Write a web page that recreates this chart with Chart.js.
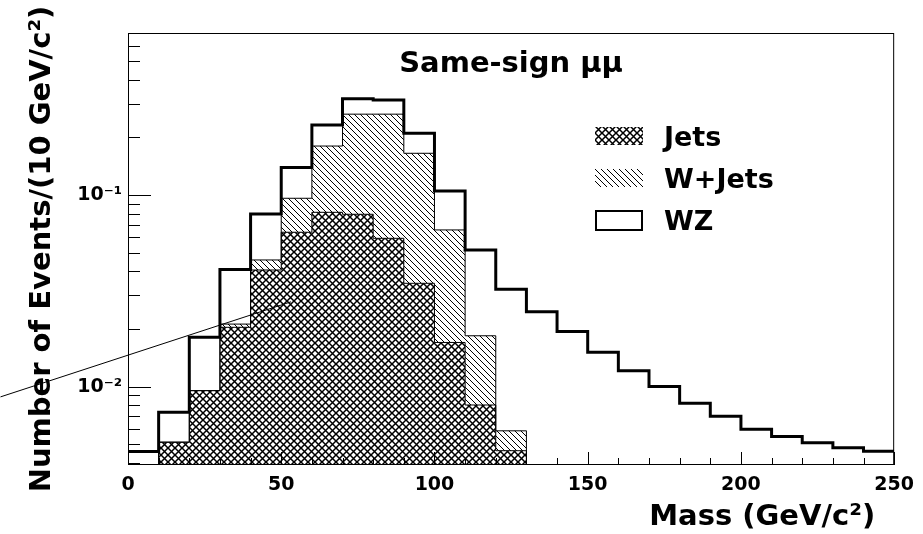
<!DOCTYPE html>
<html>
<head>
<meta charset="utf-8">
<script src="https://cdn.jsdelivr.net/npm/chart.js@4.4.1/dist/chart.umd.min.js"></script>
<style>
    html, body { margin: 0; padding: 0; background: #fff; }
</style>
</head>
<body>
<canvas id="myChart" width="923" height="534"></canvas>
<script>
// bin edges in GeV/c^2, 10 GeV bins
const binEdges = [0, 10, 20, 30, 40, 50, 60, 70, 80, 90, 100, 110, 120, 130,
    140, 150, 160, 170, 180, 190, 200, 210, 220, 230, 240, 250];

// contributions per bin (stacked: Jets, then W+Jets, then WZ on top)
const jets = [0, 0.00513, 0.00953, 0.0204, 0.0406, 0.0639, 0.0812, 0.0793, 0.0594,
    0.0346, 0.0170, 0.00802, 0.00463, 0, 0, 0, 0, 0, 0, 0, 0, 0, 0, 0, 0];
const wJets = [0, 0, 0, 0.0008, 0.0052, 0.0322, 0.0988, 0.1847, 0.2046,
    0.1304, 0.0487, 0.0104, 0.00125, 0, 0, 0, 0, 0, 0, 0, 0, 0, 0, 0, 0];
const wz = [0.00458, 0.00222, 0.00857, 0.0197, 0.0338, 0.0429, 0.052, 0.054, 0.049,
    0.045, 0.0393, 0.0332, 0.0263, 0.0246, 0.0194, 0.0151, 0.0121, 0.0100, 0.0082,
    0.0070, 0.0060, 0.0055, 0.0051, 0.0048, 0.0046];

const yMin = 0.0039;
const yMax = 0.7;
const yMajorTicks = [0.01, 0.1];
const yTickLabels = ['10⁻²', '10⁻¹'];
const legendLabels = ['Jets', 'W+Jets', 'WZ'];
const plotTitle = 'Same-sign μμ';
const xTitle = 'Mass (GeV/c²)';
const yTitle = 'Number of Events/(10 GeV/c²)';
// stray pointer line, in data coordinates
const pointerLine = [{ x: -41.6, y: 0.00884 }, { x: 53.2, y: 0.0277 }];

const FONT = "'DejaVu Sans', sans-serif";

const canvas = document.getElementById('myChart');
const mainCtx = canvas.getContext('2d');

function makePattern(size, lw, paint) {
    const c = document.createElement('canvas');
    c.width = size;
    c.height = size;
    const g = c.getContext('2d');
    g.strokeStyle = '#000';
    g.lineWidth = lw;
    paint(g, size);
    return mainCtx.createPattern(c, 'repeat');
}

const crossPattern = makePattern(7, 1.5, function (g, s) {
    g.beginPath();
    g.moveTo(-1, -1); g.lineTo(s + 1, s + 1);
    g.moveTo(s + 1, -1); g.lineTo(-1, s + 1);
    g.stroke();
});

const hatchPattern = makePattern(6, 1, function (g, s) {
    g.beginPath();
    g.moveTo(-1, -1); g.lineTo(s + 1, s + 1);
    g.moveTo(-1, s - 1); g.lineTo(1, s + 1);
    g.moveTo(s - 1, -1); g.lineTo(s + 1, 1);
    g.stroke();
});

// stacked levels
const jetsTop = jets.slice();
const wTop = jets.map((v, i) => v + wJets[i]);
const total = wTop.map((v, i) => v + wz[i]);

function stepData(levels) {
    const pts = levels.map((v, i) => ({ x: binEdges[i], y: v > 0 ? v : yMin }));
    pts.push({ x: binEdges[levels.length], y: pts[pts.length - 1].y });
    return pts;
}

const decorations = {
    id: 'decorations',
    afterDatasetsDraw(chart) {
        const ctx = chart.ctx;
        const a = chart.chartArea;
        const xs = chart.scales.x;
        const ys = chart.scales.y;
        ctx.save();
        ctx.strokeStyle = '#000';
        ctx.lineWidth = 1;

        // frame
        ctx.strokeRect(a.left + 0.5, a.top + 0.5, a.right - a.left - 1, a.bottom - a.top - 1);

        // x ticks, pointing inward
        ctx.beginPath();
        for (let v = 0; v <= 250; v += 10) {
            const px = Math.round(xs.getPixelForValue(v)) + 0.5;
            const len = v % 50 === 0 ? 13 : 7;
            ctx.moveTo(px, a.bottom);
            ctx.lineTo(px, a.bottom - len);
        }
        // y ticks
        for (let dec = 0.001; dec < 1; dec *= 10) {
            for (let m = 1; m <= 9; m++) {
                const v = dec * m;
                if (v < yMin || v > yMax) continue;
                const py = Math.round(ys.getPixelForValue(v)) + 0.5;
                const len = m === 1 ? 23 : 12;
                ctx.moveTo(a.left, py);
                ctx.lineTo(a.left + len, py);
            }
        }
        ctx.stroke();

        // title inside the frame
        ctx.fillStyle = '#000';
        ctx.textBaseline = 'alphabetic';
        ctx.textAlign = 'center';
        ctx.font = 'bold 29px ' + FONT;
        ctx.fillText(plotTitle, (a.left + a.right) / 2, 72);

        // legend
        const fills = [crossPattern, hatchPattern, null];
        ctx.textAlign = 'left';
        ctx.font = 'bold 27px ' + FONT;
        legendLabels.forEach(function (lab, i) {
            const cy = 136 + i * 42;
            if (fills[i]) {
                ctx.fillStyle = fills[i];
                ctx.fillRect(595, cy - 9, 48, 18);
            } else {
                ctx.lineWidth = 2;
                ctx.strokeRect(596, cy - 9, 46, 19);
            }
            ctx.fillStyle = '#000';
            ctx.fillText(lab, 664, cy + 10);
        });

        // x axis title
        ctx.textAlign = 'right';
        ctx.font = 'bold 29px ' + FONT;
        ctx.fillText(xTitle, a.right - 19, 525);

        // pointer line
        ctx.lineWidth = 1;
        ctx.beginPath();
        ctx.moveTo(xs.getPixelForValue(pointerLine[0].x), ys.getPixelForValue(pointerLine[0].y));
        ctx.lineTo(xs.getPixelForValue(pointerLine[1].x), ys.getPixelForValue(pointerLine[1].y));
        ctx.stroke();
        ctx.restore();
    }
};

const config = {
    type: 'line',
    data: {
        datasets: [
            {
                label: 'WZ',
                data: stepData(total),
                stepped: 'before',
                borderColor: '#000',
                borderWidth: 3,
                pointRadius: 0,
                fill: false
            },
            {
                label: 'W+Jets',
                data: stepData(wTop),
                stepped: 'before',
                borderColor: '#000',
                borderWidth: 1,
                pointRadius: 0,
                backgroundColor: hatchPattern,
                fill: '+1'
            },
            {
                label: 'Jets',
                data: stepData(jetsTop),
                stepped: 'before',
                borderColor: '#000',
                borderWidth: 1,
                pointRadius: 0,
                backgroundColor: crossPattern,
                fill: 'start'
            }
        ]
    },
    options: {
        responsive: false,
        animation: false,
        events: [],
        layout: { padding: { left: 0, right: 26, top: 33, bottom: 0 } },
        plugins: {
            legend: { display: false },
            tooltip: { enabled: false },
            filler: { drawTime: 'beforeDatasetsDraw' }
        },
        scales: {
            x: {
                type: 'linear',
                min: 0,
                max: 250,
                grid: { display: false, drawTicks: false },
                border: { display: false },
                ticks: {
                    stepSize: 50,
                    padding: 9,
                    color: '#000',
                    maxRotation: 0,
                    font: { family: FONT, size: 19, weight: 'bold' }
                },
                afterFit: function (s) { s.height = 69; }
            },
            y: {
                type: 'logarithmic',
                min: yMin,
                max: yMax,
                grid: { display: false, drawTicks: false },
                border: { display: false },
                afterBuildTicks: function (s) {
                    s.ticks = yMajorTicks.map(v => ({ value: v }));
                },
                ticks: {
                    padding: 6,
                    color: '#000',
                    font: { family: FONT, size: 19, weight: 'bold' },
                    callback: function (v) {
                        const i = yMajorTicks.indexOf(v);
                        return i >= 0 ? yTickLabels[i] : '';
                    }
                },
                title: {
                    display: true,
                    text: yTitle,
                    color: '#000',
                    font: { family: FONT, size: 29, weight: 'bold' },
                    padding: { top: 25, bottom: 0 }
                },
                afterFit: function (s) { s.width = 128; }
            }
        }
    },
    plugins: [decorations]
};

const myChart = new Chart(canvas, config);
</script>
</body>
</html>
